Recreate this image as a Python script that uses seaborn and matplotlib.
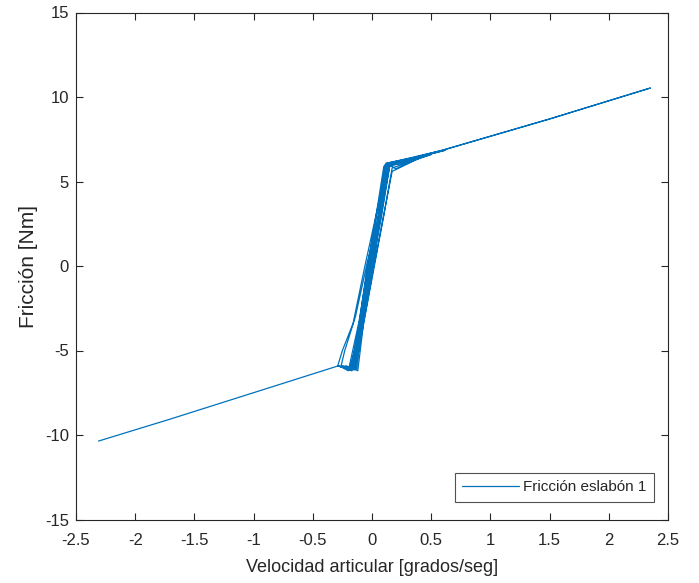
import matplotlib
matplotlib.use("Agg")
import matplotlib.pyplot as plt
import matplotlib.ticker as mticker
import seaborn as sns
import pandas as pd

# Trajectory (velocity vs friction), in drawing order
velocidad = [
    -2.31, -1.70, -0.29, -0.25, -0.16, -0.06, 0.04, 0.13, 0.60, 1.50, 2.35,
    1.50, 0.60, 0.14, 0.07, -0.01, -0.09, -0.16, -0.29,
    -0.15, -0.09, -0.02, 0.06, 0.12, 0.30, 0.62,
    0.15, 0.08, 0.00, -0.08, -0.13, -0.26,
    -0.23, -0.14, -0.04, 0.07, 0.13, 0.45,
    0.17, 0.09, 0.01, -0.07, -0.12, -0.22,
    -0.18, -0.10, -0.03, 0.05, 0.11, 0.25, 0.50,
    0.17, 0.10, 0.02, -0.06, -0.14, -0.24,
    -0.17, -0.10, -0.04, 0.04, 0.12, 0.20, 0.40,
    0.15, 0.08, 0.00, -0.07, -0.19,
    -0.14, -0.07, 0.00, 0.08, 0.14, 0.35, 0.55,
    0.14, 0.06, -0.02, -0.10, -0.17, -0.28,
    -0.20, -0.11, -0.04, 0.03, 0.10, 0.13,
    0.09, 0.03, -0.05, -0.12, -0.15, -0.20,
]
friccion = [
    -10.36, -9.05, -5.92, -5.00, -3.40, 0.00, 3.20, 6.08, 6.86, 8.70, 10.53,
    8.70, 6.86, 6.02, 3.00, 0.00, -3.00, -6.10, -5.92,
    -6.15, -3.10, 0.10, 3.10, 6.05, 6.30, 6.85,
    6.00, 2.90, -0.10, -3.20, -6.10, -5.88,
    -5.00, -3.00, 0.20, 3.20, 6.10, 6.55,
    5.60, 2.70, -0.20, -3.30, -6.20, -5.90,
    -6.10, -3.20, 0.00, 3.00, 6.00, 6.05, 6.60,
    5.80, 3.00, 0.00, -3.00, -6.05, -5.95,
    -6.05, -3.00, 0.00, 3.10, 6.10, 5.75, 6.40,
    5.90, 3.20, 0.10, -2.90, -6.15,
    -6.10, -3.00, 0.20, 3.30, 6.05, 6.40, 6.75,
    5.95, 2.80, -0.30, -3.30, -6.20, -5.90,
    -6.20, -3.30, -0.30, 2.80, 5.90, 6.00,
    4.00, 1.00, -2.00, -5.00, -6.10, -6.00,
]
x_ticks = [-2.5, -2, -1.5, -1, -0.5, 0, 0.5, 1, 1.5, 2, 2.5]
y_ticks = [-15, -10, -5, 0, 5, 10, 15]
serie = "Fricción eslabón 1"

sns.set_style("white")
plt.rcParams['font.family'] = ['Liberation Sans', 'DejaVu Sans']

fig = plt.figure(figsize=(6.99, 5.83), dpi=100)
ax = fig.add_axes([76 / 699, 1 - 519.5 / 583, 592 / 699, 507 / 583])

df = pd.DataFrame({"v": velocidad, "F": friccion, "serie": serie})
sns.lineplot(data=df, x="v", y="F", sort=False, estimator=None,
             color="#0072BD", linewidth=0.9, label=serie, ax=ax)

ax.set_xlim(-2.5, 2.5)
ax.set_ylim(-15, 15)
ax.set_xticks(x_ticks)
ax.set_yticks(y_ticks)
ax.xaxis.set_major_formatter(mticker.FormatStrFormatter('%g'))
ax.yaxis.set_major_formatter(mticker.FormatStrFormatter('%g'))
ax.tick_params(direction="in", length=5, width=0.8, colors="#262626",
               labelsize=12, top=True, right=True, bottom=True, left=True,
               labeltop=False, labelright=False)
ax.tick_params(axis="x", pad=10)
ax.tick_params(axis="y", pad=5)
for s in ax.spines.values():
    s.set_visible(True)
    s.set_color("#262626")
    s.set_linewidth(0.8)

ax.set_xlabel("Velocidad articular [grados/seg]", fontsize=13, color="#262626", labelpad=8)
ax.set_ylabel("Fricción [Nm]", fontsize=15, color="#262626", labelpad=5)

leg = ax.legend(loc="lower right", bbox_to_anchor=(0.976, 0.0345), fontsize=11,
                frameon=True, fancybox=False, edgecolor="#262626",
                handlelength=3.7, borderpad=0.5, borderaxespad=0,
                handletextpad=0.25)
leg.get_frame().set_linewidth(0.8)
for t in leg.get_texts():
    t.set_color("#262626")

fig.savefig("out.png", dpi=100, facecolor="white")
